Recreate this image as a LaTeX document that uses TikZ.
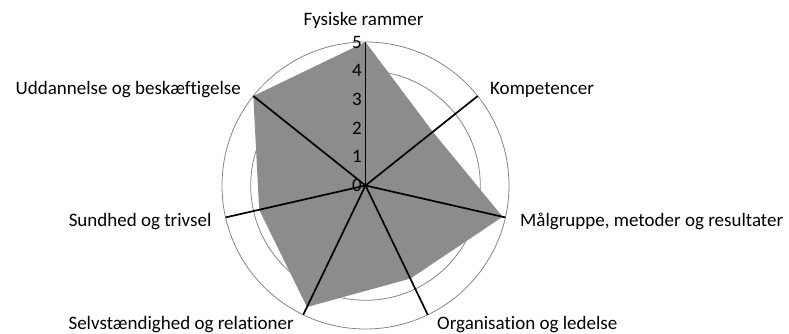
\documentclass[tikz,border=0pt]{standalone}
\usepackage{fontspec}
\setmainfont[Ligatures=NoCommon]{Carlito}
\usepackage{tikz}
\usetikzlibrary{calc}
\definecolor{areagray}{RGB}{140,140,140}
\definecolor{ringgray}{RGB}{134,134,134}

\begin{document}
\begin{tikzpicture}[x=28.7pt, y=28.7pt,
    spoke/.style={black, line width=1.7pt},
    ring/.style={ringgray, line width=0.8pt},
    lbl/.style={inner sep=0pt, font=\fontsize{19}{22}\selectfont}]
  \useasboundingbox (-365.5pt,-148.5pt) rectangle (423.5pt,185.5pt);
  \coordinate (o) at (0,0);

  % grid rings
  \foreach \r in {4,5}
    \draw[ring] (o) circle (\r);

  % data points
  \foreach \v [count=\i] in {5,3,4.9,3.6,4.7,3.8,5}
    \coordinate (p\i) at ({90-(\i-1)*360/7}:\v);
  \fill[areagray] (p1) -- (p2) -- (p3) -- (p4) -- (p5) -- (p6) -- (p7) -- cycle;

  % spokes
  \foreach \i in {1,...,7}{
    \coordinate (e\i) at ({90-(\i-1)*360/7}:5);
    \draw[spoke] (o) -- (e\i);
  }

  % scale
  \foreach \n in {0,...,5}
    \node[lbl, anchor=east] (t\n) at ([xshift=-3.5pt]0,\n) {\n};

  % category labels
  \node[lbl, anchor=base] (fys) at (-2pt,159.5pt) {Fysiske rammer};
  \node[lbl, anchor=base west] (komp) at (124.5pt,90.5pt) {Kompetencer};
  \node[lbl, anchor=base west] (maal) at (154.5pt,-41pt) {Målgruppe, metoder og resultater};
  \node[lbl, anchor=base west] (org) at (71.5pt,-144pt) {Organisation og ledelse};
  \node[lbl, anchor=base east] (selv) at (-71.5pt,-144pt) {Selvstændighed og relationer};
  \node[lbl, anchor=base east] (sund) at (-153.8pt,-41pt) {Sundhed og trivsel};
  \node[lbl, anchor=base east] (udd) at (-124.5pt,90.5pt) {Uddannelse og beskæftigelse};
\end{tikzpicture}
\end{document}
